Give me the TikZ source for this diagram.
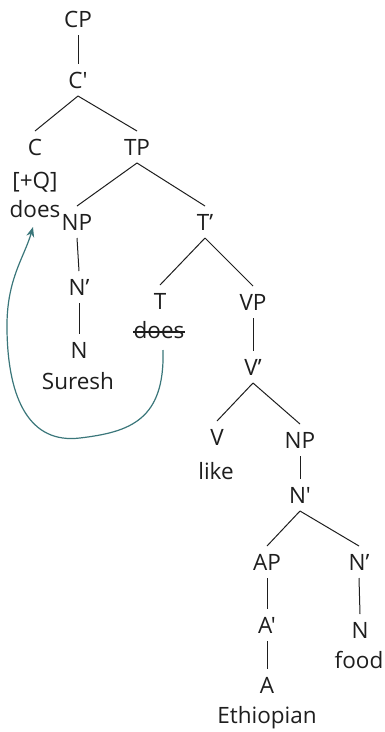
\documentclass[tikz,border=0pt]{standalone}
\usepackage{fontspec}
\newfontfamily\osans{Open Sans}
\usetikzlibrary{arrows.meta}
\definecolor{moveteal}{RGB}{58,118,122}
\definecolor{ink}{RGB}{30,30,30}
\begin{document}
\begin{tikzpicture}[x=1pt,y=-1pt,
  every node/.style={font=\osans\fontsize{22.5}{27}\selectfont, text=ink, inner sep=0pt, anchor=base},
  cat/.style={text height=16pt, text depth=0pt, outer ysep=8pt},
  word/.style={},
  branch/.style={line width=1pt, ink},
  movearrow/.style={line width=1.2pt, moveteal, -{Stealth[length=10pt,width=8pt]}}]
\useasboundingbox (0,0) rectangle (384,732);
% nodes
\node[cat] (CP) at (78,27) {CP};
\node[cat] (Cb) at (78,88) {C'};
\node[cat] (C) at (35,155) {C};
\node[cat] (TP) at (137,155) {TP};
\node[word] (Q) at (35,188) {[+Q]};
\node[word] (does1) at (35,217) {does};
\node[cat] (NP1) at (77,230) {NP};
\node[cat] (Tb) at (205,230) {T’};
\node[cat] (Nb1) at (79,295) {N’};
\node[cat] (N1) at (79,358) {N};
\node[word] (Suresh) at (78,389) {Suresh};
\node[cat] (T) at (160,309) {T};
\node[word] (ds) at (159,338) {does};
\node[cat] (VP) at (253,310) {VP};
\node[cat] (Vb) at (253,375) {V’};
\node[cat] (V) at (217,445) {V};
\node[word] (like) at (216,479) {like};
\node[cat] (NP2) at (300,448) {NP};
\node[cat] (Nb2) at (300,503) {N'};
\node[cat] (AP) at (267,570) {AP};
\node[cat] (Nb3) at (359,570) {N’};
\node[cat] (Ab) at (267,633) {A'};
\node[cat] (N2) at (360,638) {N};
\node[word] (food) at (359,668) {food};
\node[cat] (A) at (267,693) {A};
\node[word] (Eth) at (267,723) {Ethiopian};
% strike-through of the moved auxiliary
\draw[line width=1.1pt, ink] ([yshift=6pt]ds.base west) -- ([yshift=6pt]ds.base east);
% branches
\draw[branch] (CP.south) -- (Cb.north);
\draw[branch] (Cb.south) -- (C.north);
\draw[branch] (Cb.south) -- (TP.north);
\draw[branch] (TP.south) -- (NP1.north);
\draw[branch] (TP.south) -- (Tb.north);
\draw[branch] (NP1.south) -- (Nb1.north);
\draw[branch] (Nb1.south) -- (N1.north);
\draw[branch] (Tb.south) -- (T.north);
\draw[branch] (Tb.south) -- (VP.north);
\draw[branch] (VP.south) -- (Vb.north);
\draw[branch] (Vb.south) -- (V.north);
\draw[branch] (Vb.south) -- (NP2.north);
\draw[branch] (NP2.south) -- (Nb2.north);
\draw[branch] (Nb2.south) -- (AP.north);
\draw[branch] (Nb2.south) -- (Nb3.north);
\draw[branch] (AP.south) -- (Ab.north);
\draw[branch] (Ab.south) -- (A.north);
\draw[branch] (Nb3.south) -- (N2.north);
% movement arrow
\draw[movearrow] ([shift={(4pt,-12pt)}]ds.base)
  .. controls (165,420) and (130,432) .. (80,438)
  .. controls (30,444) and (8,400) .. (7,330)
  .. controls (6,280) and (24,258) .. ([shift={(-2pt,-10pt)}]does1.base);
\end{tikzpicture}
\end{document}
